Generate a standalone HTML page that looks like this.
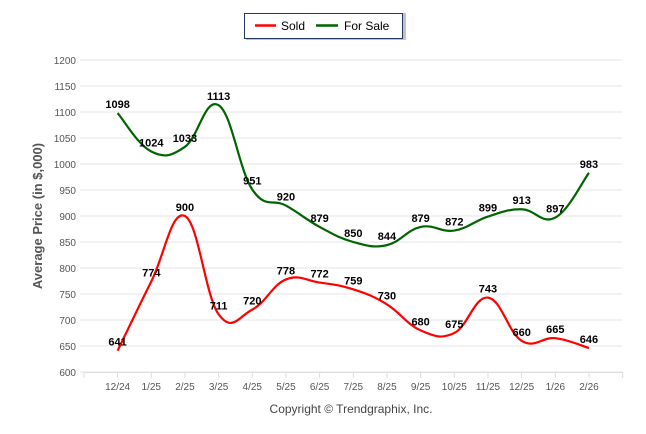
<!DOCTYPE html>
<html><head><meta charset="utf-8"><style>
body{margin:0;background:#fff;}
svg{display:block;font-family:"Liberation Sans",Arial,sans-serif;}
</style></head><body>
<svg id="c" width="646" height="434">
<g>
<rect x="246" y="13" width="160" height="27" fill="#888" opacity="0.5"/>
<rect x="244.5" y="13.5" width="158" height="25" fill="#fff" stroke="#1f3864" stroke-width="1"/>
<line x1="255" y1="25.5" x2="276" y2="25.5" stroke="#ff0000" stroke-width="2.5"/>
<text x="281" y="30" font-size="12" fill="#000">Sold</text>
<line x1="316" y1="25.5" x2="338" y2="25.5" stroke="#006400" stroke-width="2.5"/>
<text x="344" y="30" font-size="12" fill="#000">For Sale</text>
</g>
<text transform="translate(42,216) rotate(-90)" text-anchor="middle" font-size="13" font-weight="bold" fill="#555">Average Price (in $,000)</text>
<text x="351" y="413" text-anchor="middle" font-size="12" fill="#444">Copyright © Trendgraphix, Inc.</text>
<g id="grid"></g><g id="lines"></g><g id="labels"></g>
</svg>
<script>
const categories=["12/24","1/25","2/25","3/25","4/25","5/25","6/25","7/25","8/25","9/25","10/25","11/25","12/25","1/26","2/26"];
const sold=[641,774,900,711,720,778,772,759,730,680,675,743,660,665,646];
const forSale=[1098,1024,1033,1113,951,920,879,850,844,879,872,899,913,897,983];
const yTicks=[600,650,700,750,800,850,900,950,1000,1050,1100,1150,1200];
const NS="http://www.w3.org/2000/svg";
function X(i){return 117.6+i*33.67;}
function Y(v){return 372-(v-600)*0.52;}
function mk(t,a,p){const e=document.createElementNS(NS,t);for(const k in a)e.setAttribute(k,a[k]);p.appendChild(e);return e;}
const grid=document.getElementById('grid'),lines=document.getElementById('lines'),labels=document.getElementById('labels');
yTicks.forEach(v=>{
 const l=mk('line',{x1:80,x2:622,y1:Y(v),y2:Y(v),stroke:'#e6e6e6','stroke-width':1},grid);
 
 
 const t=mk('text',{x:76,y:Y(v)+4,'text-anchor':'end','font-size':10,fill:'#555'},grid);
 t.textContent=v;
 
 
});
mk('line',{x1:84,x2:622.6,y1:372.5,y2:372.5,stroke:'#ddd'},grid);
for(let i=-1;i<=categories.length;i++){mk('line',{x1:X(i),x2:X(i),y1:372,y2:378,stroke:'#ddd'},grid);}
categories.forEach((c,i)=>{
 const t=mk('text',{x:X(i),y:390,'text-anchor':'middle','font-size':10,fill:'#555'},grid);
 t.textContent=c;
 
 
});
function path(vals){
 const p=vals.map((v,i)=>[X(i),Y(v)]);let d='M'+p[0][0]+','+p[0][1];const k=0.2;
 for(let i=0;i<p.length-1;i++){
  const p0=p[i-1]||p[i],p1=p[i],p2=p[i+1],p3=p[i+2]||p2;
  d+=' C'+(p1[0]+(p2[0]-p0[0])*k)+','+(p1[1]+(p2[1]-p0[1])*k)+' '+(p2[0]-(p3[0]-p1[0])*k)+','+(p2[1]-(p3[1]-p1[1])*k)+' '+p2[0]+','+p2[1];
 }
 return d;
}
const s1=mk('path',{d:path(forSale),fill:'none',stroke:'#006400','stroke-width':2.2},lines);


const s2=mk('path',{d:path(sold),fill:'none',stroke:'#ff0000','stroke-width':2.2},lines);


[sold,forSale].forEach(arr=>arr.forEach((v,i)=>{
 const t=mk('text',{x:X(i),y:Y(v)-5,'text-anchor':'middle','font-size':11,'font-weight':'bold',fill:'#000'},labels);
 t.textContent=v;
 
 
}));
</script>
</body></html>
